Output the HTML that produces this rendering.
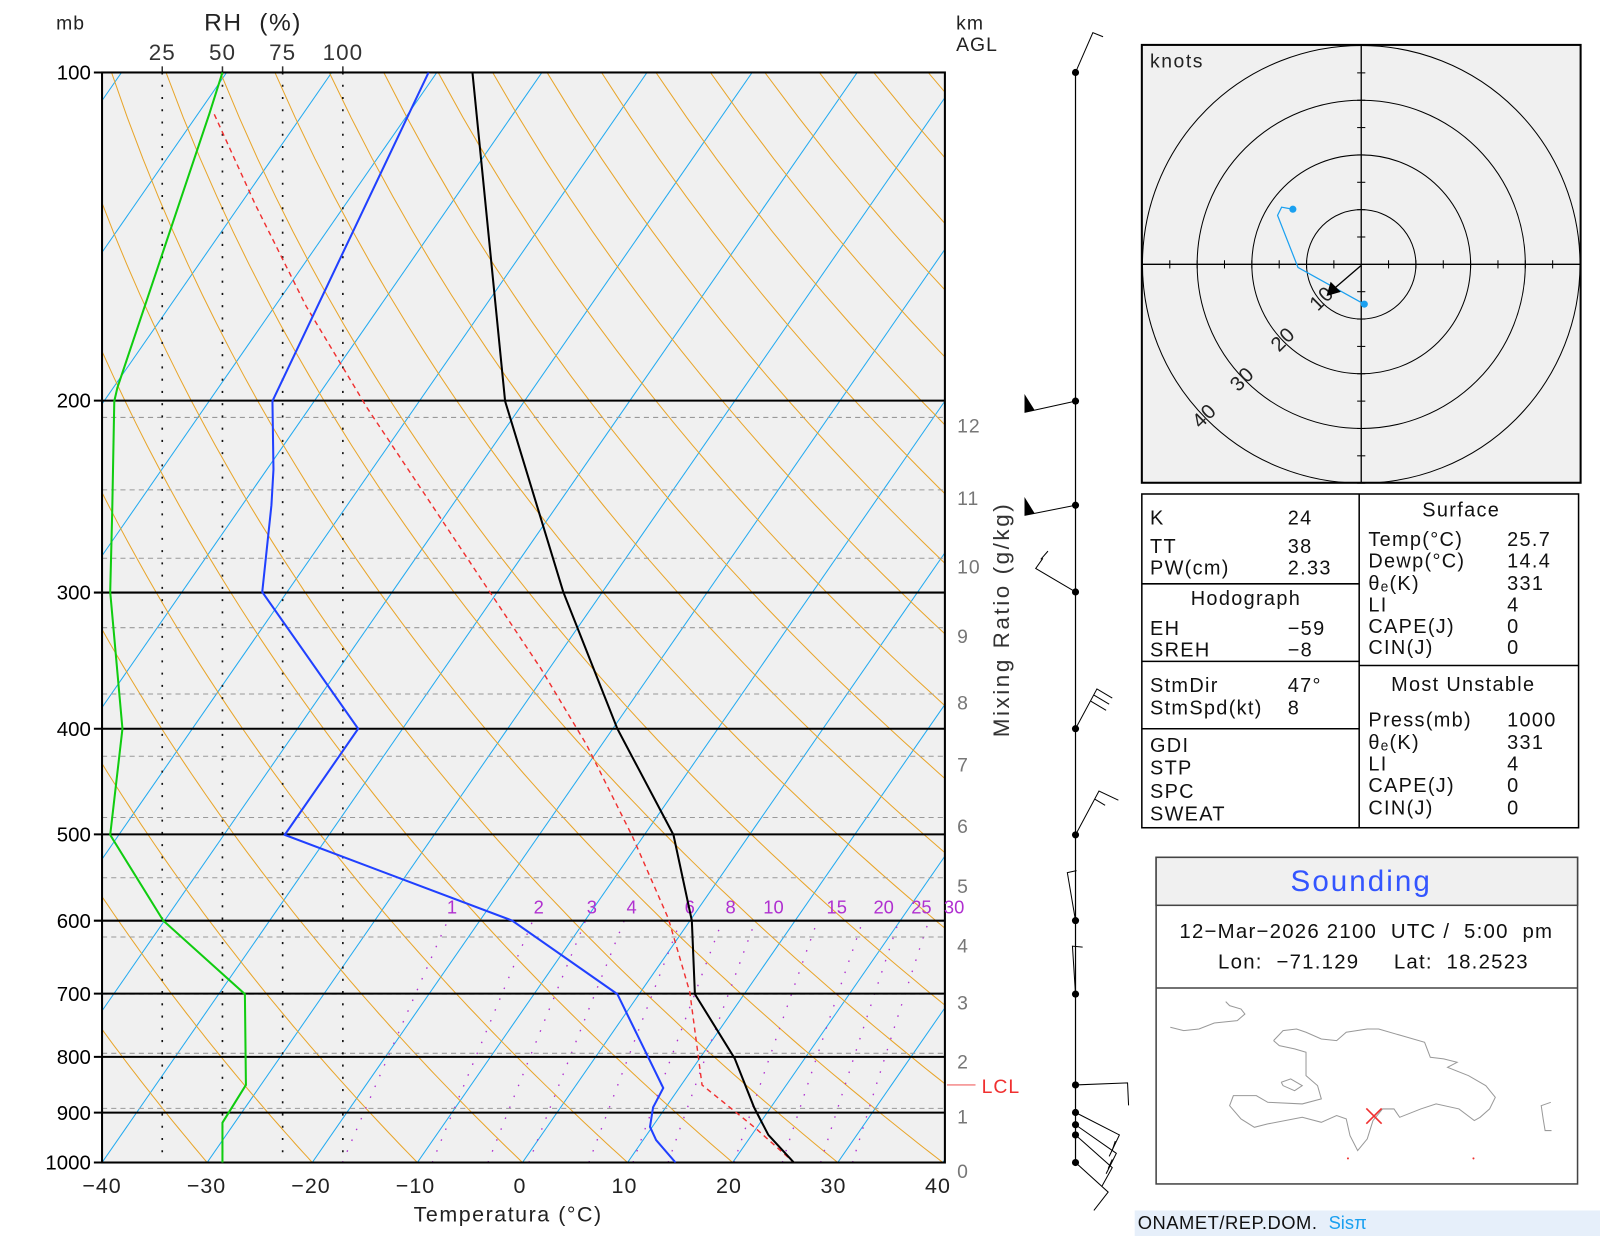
<!DOCTYPE html>
<html><head><meta charset="utf-8">
<style>
html,body{margin:0;padding:0;background:#fff;width:1600px;height:1236px;overflow:hidden}
svg{display:block}
text{font-family:"Liberation Sans",sans-serif;white-space:pre}
</style></head>
<body>
<svg id="s" width="1600" height="1236" viewBox="0 0 1568 1211" preserveAspectRatio="none" xmlns="http://www.w3.org/2000/svg">
<defs>
<clipPath id="pc"><rect x="100" y="71" width="826" height="1068"/></clipPath>
<clipPath id="hc"><rect x="1119" y="44" width="430" height="429"/></clipPath>
</defs>
<rect x="100" y="71" width="826" height="1068" fill="#f0f0f0"/>
<g id="grid" clip-path="url(#pc)"></g>
<g id="main"></g>
</svg>
<script>
var NS="http://www.w3.org/2000/svg";
function el(parent,tag,attrs,txt){var e=document.createElementNS(NS,tag);for(var k in attrs)e.setAttribute(k,attrs[k]);if(txt!==undefined)e.textContent=txt;parent.appendChild(e);return e;}
var G=document.getElementById('grid'),M=document.getElementById('main');
function yP(p){return 1139-Math.log10(1000/p)*1068;}
function xT(T,p){return 100+(T+40)*10.3+(1139-yP(p))*0.693;}
function pl(par,pts,st){el(par,'polyline',Object.assign({points:pts.map(function(a){return a[0].toFixed(1)+','+a[1].toFixed(1)}).join(' '),fill:'none'},st));}
for(var T=-130;T<=40;T+=10){pl(G,[[xT(T,1000),yP(1000)],[xT(T,100),yP(100)]],{stroke:'#22aaf0','stroke-width':1});}
for(var T0=-40;T0<=220;T0+=10){var th=T0+273.15,pts=[];for(var p=1050;p>=100;p-=10){var t=th*Math.pow(p/1000,0.2857)-273.15;pts.push([xT(t,p),yP(p)]);}pl(G,pts,{stroke:'#e8a52a','stroke-width':1});}
[1,2,3,4,6,8,10,15,20,25,30].forEach(function(w){var pts=[];for(var p=1000;p>=600;p-=20){var e=w*p/(622+w),l=Math.log(e/6.112),td=243.5*l/(17.67-l);pts.push([xT(td,p),yP(p)]);}pl(G,pts,{stroke:'#b030d0','stroke-width':1.3,'stroke-dasharray':'1.5 10'});});
var km=[[0,1139],[1,1086],[2,1032],[3,974],[4,918],[5,860],[6,801],[7,741],[8,680],[9,615],[10,547],[11,480],[12,409]];
km.forEach(function(k){if(k[0]>0)el(G,'line',{x1:100,x2:926,y1:k[1],y2:k[1],stroke:'#999','stroke-width':1,'stroke-dasharray':'5 4'});el(M,'text',{x:938,y:k[1]+15,'font-size':19,fill:'#777','letter-spacing':'1'},k[0]);});
[[159,'25'],[218,'50'],[277,'75'],[336,'100']].forEach(function(r){el(G,'line',{x1:r[0],x2:r[0],y1:71,y2:1139,stroke:'#111','stroke-width':1.6,'stroke-dasharray':'2 10'});el(M,'line',{x1:r[0],x2:r[0],y1:65,y2:71,stroke:'#333','stroke-width':1.5});el(M,'text',{x:r[0],y:59,'font-size':22,fill:'#333','text-anchor':'middle','letter-spacing':'1'},r[1]);});
[100,200,300,400,500,600,700,800,900,1000].forEach(function(p){var y=yP(p);el(M,'line',{x1:92,x2:926,y1:y,y2:y,stroke:'#000','stroke-width':2});el(M,'text',{x:89,y:y+7,'font-size':20,fill:'#000','text-anchor':'end'},p);});
el(M,'rect',{x:100,y:71,width:826,height:1068,fill:'none',stroke:'#000','stroke-width':2});
[[443,'1'],[528,'2'],[580,'3'],[619,'4'],[676,'6'],[716,'8'],[758,'10'],[820,'15'],[866,'20'],[903,'25'],[935,'30']].forEach(function(m){el(M,'text',{x:m[0],y:895,'font-size':18,fill:'#b030d0','text-anchor':'middle'},m[1]);});
var C=document.createElementNS(NS,'g');C.setAttribute('clip-path','url(#pc)');M.appendChild(C);
pl(C,[[218,71],[205,112],[115,380],[112,393],[110,500],[108,580],[120,714],[108,818],[160,902],[240,974],[241,1063],[218,1100],[218,1139]],{stroke:'#10cc10','stroke-width':2});
pl(C,[[210,112],[250,200],[300,300],[360,400],[420,490],[480,580],[530,655],[575,730],[620,820],[655,900],[676,972],[688,1063],[740,1105],[778,1139]],{stroke:'#f03030','stroke-width':1.4,'stroke-dasharray':'5 4'});
pl(C,[[420,71],[267,393],[268,460],[266,495],[257,580],[351,714],[279,818],[502,902],[605,974],[650,1066],[640,1085],[637,1104],[643,1117],[662,1139]],{stroke:'#2040ff','stroke-width':2});
pl(C,[[463,71],[495,393],[552,580],[605,714],[660,818],[678,902],[681,974],[720,1037],[739,1085],[753,1112],[778,1139]],{stroke:'#000','stroke-width':2});
el(M,'line',{x1:928,x2:956,y1:1063,y2:1063,stroke:'#f06060','stroke-width':1});
el(M,'text',{x:962,y:1071,'font-size':19,fill:'#f03030','letter-spacing':'1'},'LCL');
[-40,-30,-20,-10,0,10,20,30,40].forEach(function(t,i){el(M,'text',{x:100+i*102.4,y:1169,'font-size':21,fill:'#222','text-anchor':'middle','letter-spacing':'1'},(t<0?'\u2212':'')+Math.abs(t));});
el(M,'text',{x:498,y:1197,'font-size':21,fill:'#222','text-anchor':'middle','letter-spacing':'1.5'},'Temperatura (\u00B0C)');
el(M,'text',{x:55,y:29,'font-size':19,fill:'#222','letter-spacing':'1'},'mb');
el(M,'text',{x:248,y:30,'font-size':24,fill:'#222','text-anchor':'middle','letter-spacing':'1.5'},'RH  (%)');
el(M,'text',{x:937,y:29,'font-size':19,fill:'#222','letter-spacing':'1'},'km');
el(M,'text',{x:937,y:50,'font-size':19,fill:'#222','letter-spacing':'1'},'AGL');
el(M,'text',{x:0,y:0,'font-size':22,fill:'#333','text-anchor':'middle','letter-spacing':'2.5',transform:'translate(989,607) rotate(-90)'},'Mixing Ratio (g/kg)');
el(M,'line',{x1:1054,x2:1054,y1:71,y2:1139,stroke:'#000','stroke-width':1.2});
[71,393,495,580,714,818,902,974,1063,1090,1102,1112,1139].forEach(function(y){el(M,'circle',{cx:1054,cy:y,r:3.5,fill:'#000'});});
var B=[[[1054,71],[1071,32],[1081,36]],[[1054,393],[1004,404]],[[1054,495],[1004,505]],[[1054,580],[1015,557],[1022,547]],[[1054,714],[1075,675],[1090,684]],[[1054,818],[1077,775],[1096,784]],[[1054,902],[1046,855],[1055,853]],[[1054,974],[1051,927],[1061,928]],[[1054,1063],[1105,1061],[1106,1083]],[[1054,1090],[1097,1112],[1087,1133]],[[1054,1102],[1094,1130],[1084,1150]],[[1054,1112],[1090,1144],[1080,1162]],[[1054,1139],[1086,1168],[1072,1186]]];
B.forEach(function(b){pl(M,b,{stroke:'#000','stroke-width':1});});
[[1004,404],[1004,505]].forEach(function(f){el(M,'polygon',{points:(f[0])+','+(f[1])+' '+(f[0])+','+(f[1]-18)+' '+(f[0]+10)+','+(f[1]-2),fill:'#000'});});
pl(M,[[1072,681],[1087,690]],{stroke:'#000','stroke-width':1});pl(M,[[1069,687],[1084,696]],{stroke:'#000','stroke-width':1});
pl(M,[[1073,783],[1083,789]],{stroke:'#000','stroke-width':1});pl(M,[[1020,548],[1027,540]],{stroke:'#000','stroke-width':1});
pl(M,[[1090,1127],[1093,1118]],{stroke:'#000','stroke-width':1});pl(M,[[1086,1145],[1090,1136]],{stroke:'#000','stroke-width':1});
el(M,'rect',{x:1119,y:44,width:430,height:429,fill:'#f0f0f0',stroke:'#000','stroke-width':2});
var H=document.createElementNS(NS,'g');H.setAttribute('clip-path','url(#hc)');M.appendChild(H);
[53.6,107.2,160.8,214.4].forEach(function(r){el(H,'circle',{cx:1334,cy:259,r:r,fill:'none',stroke:'#000','stroke-width':1});});
el(M,'line',{x1:1119,x2:1549,y1:259,y2:259,stroke:'#000','stroke-width':1.3});
el(M,'line',{x1:1334,x2:1334,y1:44,y2:473,stroke:'#000','stroke-width':1.3});
for(var i=-8;i<=8;i++){if(i==0)continue;var d=i*26.8;el(M,'line',{x1:1334+d,x2:1334+d,y1:255,y2:263,stroke:'#000','stroke-width':1});el(M,'line',{x1:1330,x2:1338,y1:259+d,y2:259+d,stroke:'#000','stroke-width':1});}
el(M,'text',{x:1127,y:66,'font-size':19,fill:'#222','letter-spacing':'1.5'},'knots');
[[1300,297,'10'],[1262,337,'20'],[1222,376,'30'],[1185,412,'40']].forEach(function(l){el(M,'text',{x:0,y:0,'font-size':20,fill:'#222','text-anchor':'middle','letter-spacing':'1',transform:'translate('+l[0]+','+l[1]+') rotate(-45)'},l[2]);});
pl(M,[[1267,205],[1256,203],[1252,211],[1272,262],[1337,298]],{stroke:'#1aa0f0','stroke-width':1.2});
el(M,'circle',{cx:1267,cy:205,r:3.5,fill:'#1aa0f0'});el(M,'circle',{cx:1337,cy:298,r:3.5,fill:'#1aa0f0'});
el(M,'line',{x1:1334,y1:260,x2:1306,y2:284,stroke:'#000','stroke-width':1.3});
el(M,'polygon',{points:'1300,290 1304,276 1314,286',fill:'#000'});
el(M,'rect',{x:1119,y:484,width:428,height:327,fill:'#fff',stroke:'#000','stroke-width':1.5});
el(M,'line',{x1:1332,x2:1332,y1:484,y2:811,stroke:'#000','stroke-width':1.5});
[572,648,714].forEach(function(y){el(M,'line',{x1:1119,x2:1332,y1:y,y2:y,stroke:'#000','stroke-width':1.5});});
el(M,'line',{x1:1332,x2:1547,y1:652,y2:652,stroke:'#000','stroke-width':1.5});
function T2(x,y,t,a){el(M,'text',{x:x,y:y+7,'font-size':19.5,fill:'#111','text-anchor':a||'start','letter-spacing':'1.3'},t);}
[['K','24',507],['TT','38',535],['PW(cm)','2.33',556],['EH','\u221259',615],['SREH','\u22128',636],['StmDir','47\u00B0',671],['StmSpd(kt)','8',693],['GDI','',730],['STP','',752],['SPC','',775],['SWEAT','',797]].forEach(function(r){T2(1127,r[2],r[0]);T2(1262,r[2],r[1]);});
T2(1221,586,'Hodograph','middle');T2(1432,499,'Surface','middle');T2(1434,670,'Most Unstable','middle');
[['Temp(\u00B0C)','25.7',528],['Dewp(\u00B0C)','14.4',549],['\u03B8\u2091(K)','331',571],['LI','4',592],['CAPE(J)','0',613],['CIN(J)','0',634],['Press(mb)','1000',705],['\u03B8\u2091(K)','331',727],['LI','4',748],['CAPE(J)','0',769],['CIN(J)','0',791]].forEach(function(r){T2(1341,r[2],r[0]);T2(1477,r[2],r[1]);});
el(M,'rect',{x:1133,y:840,width:413,height:320,fill:'#fff',stroke:'#444','stroke-width':1.5});
el(M,'rect',{x:1133,y:840,width:413,height:47,fill:'#f0f0f0',stroke:'#444','stroke-width':1.5});
el(M,'line',{x1:1133,x2:1546,y1:968,y2:968,stroke:'#444','stroke-width':1.5});
el(M,'text',{x:1334,y:873,'font-size':29,fill:'#3355ff','text-anchor':'middle','letter-spacing':'2'},'Sounding');
el(M,'text',{x:1339,y:919,'font-size':20,fill:'#111','text-anchor':'middle','letter-spacing':'1.2'},'12\u2212Mar\u22122026 2100  UTC /  5:00  pm');
el(M,'text',{x:1346,y:949,'font-size':20,fill:'#111','text-anchor':'middle','letter-spacing':'1.2'},'Lon:  \u221271.129     Lat:  18.2523');
function mp(z){return z.map(function(a){return [1133+(a[0]-408)*0.3748,968+(a[1]-507)*0.3265];});}
pl(M,mp([[715,665],[740,635],[775,630],[800,640],[840,660],[880,665],[905,640],[960,630],[990,630],[1050,650],[1110,670],[1125,715],[1160,720],[1195,730],[1170,745],[1225,770],[1270,800],[1295,835],[1280,870],[1255,895],[1240,905],[1200,870],[1140,855],[1100,870],[1045,895],[1030,870],[1000,870],[975,905],[960,960],[935,995],[915,950],[905,900],[880,890],[840,910],[790,895],[700,915],[665,925],[630,900],[600,860],[610,830],[670,830],[700,850],[790,855],[840,840],[830,800],[800,770],[800,700],[770,690],[730,680],[715,665]]),{stroke:'#999','stroke-width':1});
pl(M,mp([[445,625],[480,635],[520,630],[560,612],[620,605],[640,585],[630,570],[600,560],[590,548]]),{stroke:'#999','stroke-width':1});
pl(M,mp([[1440,850],[1415,860],[1420,900],[1425,935],[1442,935]]),{stroke:'#999','stroke-width':1});
pl(M,mp([[735,790],[760,780],[790,800],[770,815],[740,800],[735,790]]),{stroke:'#999','stroke-width':1});
el(M,'line',{x1:1339,y1:1086,x2:1354,y2:1101,stroke:'#f03030','stroke-width':1.6});
el(M,'line',{x1:1354,y1:1086,x2:1339,y2:1101,stroke:'#f03030','stroke-width':1.6});
el(M,'circle',{cx:1321,cy:1135,r:1,fill:'#f03030'});el(M,'circle',{cx:1444,cy:1135,r:1,fill:'#f03030'});
el(M,'rect',{x:1112,y:1186,width:456,height:25,fill:'#e6effa'});
el(M,'text',{x:1115,y:1204,'font-size':18,fill:'#111','letter-spacing':'0.5'},'ONAMET/REP.DOM.');
el(M,'text',{x:1302,y:1204,'font-size':18,fill:'#1aa0f0'},'Sis\u03C0');
</script>
</body></html>
